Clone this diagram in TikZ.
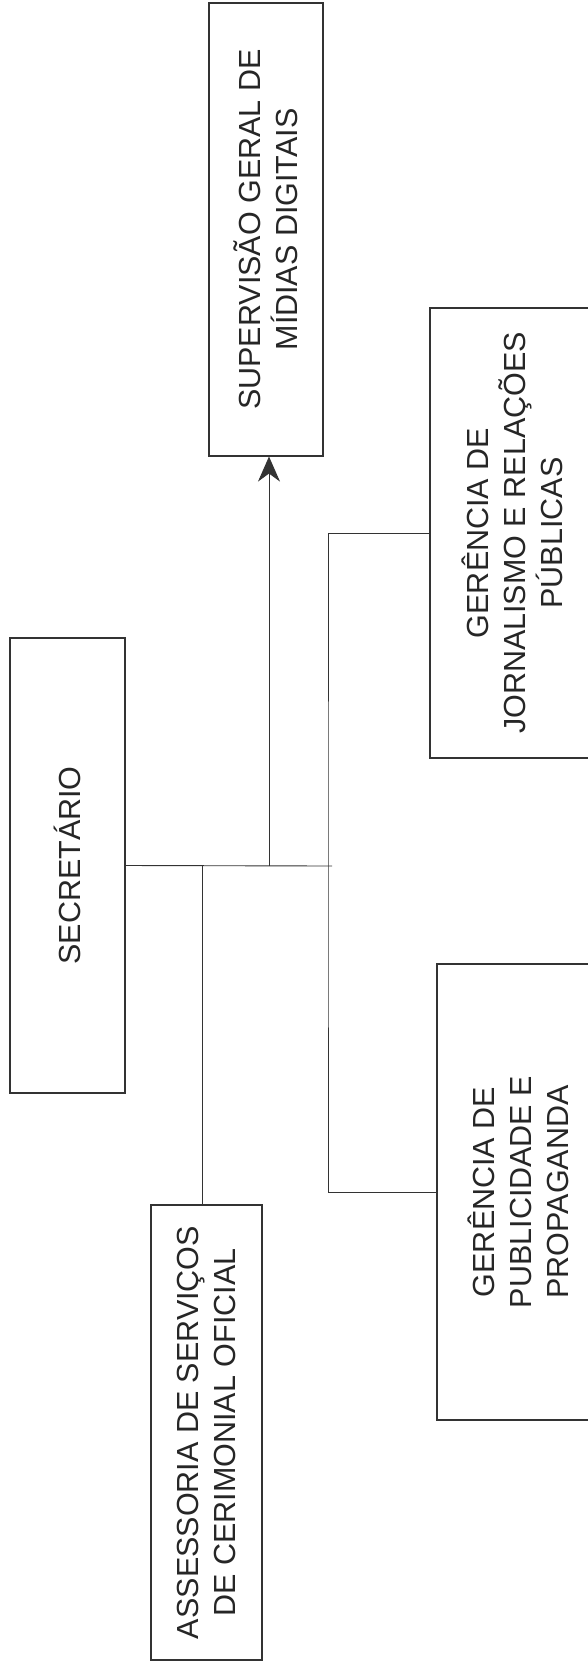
\documentclass[tikz,border=0pt]{standalone}
\usepackage{fontspec}
\setmainfont{Liberation Sans}
\usetikzlibrary{arrows.meta}
\tikzset{
  orgbox/.style={draw=black!80, line width=1.1pt, rotate=90, inner sep=0pt,
    align=center, text=black!85, font=\fontsize{30.5}{37}\selectfont},
  link/.style={draw=black!80, line width=0.9pt}
}
\begin{document}
\begin{tikzpicture}[x=1pt,y=-1pt]
\useasboundingbox (0,0) rectangle (588,1662);
\fill[white] (0,0) rectangle (588,1662);
\clip (0,0) rectangle (588,1662);
\node[orgbox, minimum width=455pt, minimum height=115pt] (sec) at (67.5,865.5) {SECRETÁRIO};
\node[orgbox, minimum width=453pt, minimum height=114pt] (sup) at (266,229.5) {SUPERVISÃO GERAL DE\\MÍDIAS DIGITAIS};
\node[orgbox, minimum width=455pt, minimum height=111pt] (ass) at (206.5,1432.5) {ASSESSORIA DE SERVIÇOS\\DE CERIMONIAL OFICIAL};
\node[orgbox, minimum width=450pt, minimum height=164pt] (jor) at (512,533) {GERÊNCIA DE\\JORNALISMO E RELAÇÕES\\PÚBLICAS};
\node[orgbox, minimum width=456pt, minimum height=162pt] (pub) at (518,1192) {GERÊNCIA DE\\PUBLICIDADE E\\PROPAGANDA};
\coordinate (jA) at (202,866);
\coordinate (jB) at (269,866);
\coordinate (jC) at (328,866);
\coordinate (tEnd) at (332,866);
\draw[link] (sec.south) -- (tEnd);
\draw[link] (jA) -- (jA |- ass.east);
\draw[link, -{Stealth[length=25pt,width=22pt,inset=8pt]}] (jB) -- (jB |- sup.west);
\draw[link] (jor.north) -| (jC) |- (pub.north);
\end{tikzpicture}
\end{document}
